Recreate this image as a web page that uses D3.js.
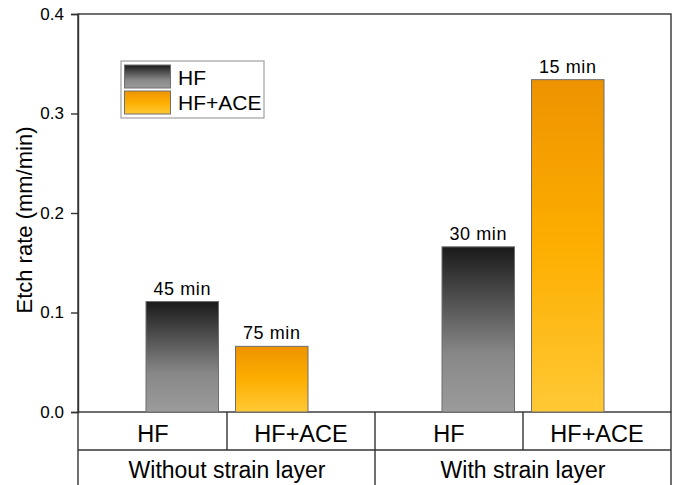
<!DOCTYPE html>
<html>
<head>
<meta charset="utf-8">
<script src="https://cdn.jsdelivr.net/npm/d3@7"></script>
<style>
  body { margin: 0; background: #fff; }
  text { font-family: "Liberation Sans", Arial, sans-serif; fill: #000; }
</style>
</head>
<body>
<svg width="678" height="485"></svg>
<script>
const groups = ['Without strain layer', 'With strain layer'];
const series = ['HF', 'HF+ACE'];
const hfValues = [0.111, 0.166];
const aceValues = [0.066, 0.334];
const hfTimes = ['45 min', '30 min'];
const aceTimes = ['75 min', '15 min'];
const yTicks = [0, 0.1, 0.2, 0.3, 0.4];

const rows = [];
groups.forEach((g, i) => {
  rows.push({ group: g, series: 'HF', value: hfValues[i], label: hfTimes[i] });
  rows.push({ group: g, series: 'HF+ACE', value: aceValues[i], label: aceTimes[i] });
});

const svg = d3.select('svg');
const plotL = 78, plotR = 671, plotT = 14, plotB = 412;

const defs = svg.append('defs');
const gHF = defs.append('linearGradient').attr('id', 'gradHF')
  .attr('x1', 0).attr('y1', 0).attr('x2', 0).attr('y2', 1);
gHF.append('stop').attr('offset', '0%').attr('stop-color', '#1a1a1a');
gHF.append('stop').attr('offset', '65%').attr('stop-color', '#888');
gHF.append('stop').attr('offset', '100%').attr('stop-color', '#9b9b9b');
const gACE = defs.append('linearGradient').attr('id', 'gradACE')
  .attr('x1', 0).attr('y1', 0).attr('x2', 0).attr('y2', 1);
gACE.append('stop').attr('offset', '0%').attr('stop-color', '#ee9300');
gACE.append('stop').attr('offset', '50%').attr('stop-color', '#fdae00');
gACE.append('stop').attr('offset', '100%').attr('stop-color', '#ffc935');
const fillFor = s => s === 'HF' ? 'url(#gradHF)' : 'url(#gradACE)';

// scales
const y = d3.scaleLinear().domain([0, 0.4]).range([plotB, plotT]);
// group centres sit on the quarter lines of the plot
const x0 = d3.scalePoint().domain(groups).range([227, 523]);
const x1 = d3.scaleBand().domain(series).range([-81, 81]).paddingInner(0.19).paddingOuter(0);

// frame
svg.append('rect').attr('x', plotL).attr('y', plotT)
  .attr('width', plotR - plotL).attr('height', plotB - plotT)
  .attr('fill', 'none').attr('stroke', '#333').attr('stroke-width', 1.4);

// bars
svg.append('g').selectAll('rect').data(rows).join('rect')
  .attr('x', d => x0(d.group) + x1(d.series))
  .attr('width', x1.bandwidth())
  .attr('y', d => y(d.value))
  .attr('height', d => y(0) - y(d.value))
  .attr('fill', d => fillFor(d.series))
  .attr('stroke', '#6e6e6e').attr('stroke-width', 1);

svg.append('g').selectAll('text').data(rows).join('text')
  .attr('x', d => x0(d.group) + x1(d.series) + x1.bandwidth() / 2)
  .attr('y', d => y(d.value) - 7)
  .attr('text-anchor', 'middle')
  .attr('font-size', 18)
  .attr('letter-spacing', 0.6)
  .text(d => d.label);

// y axis
const yAxis = svg.append('g').attr('transform', `translate(${plotL},0)`)
  .call(d3.axisLeft(y).tickValues(yTicks).tickFormat(d3.format('.1f')).tickSize(7).tickPadding(7));
yAxis.select('.domain').attr('stroke', '#333').attr('stroke-width', 1.4);
yAxis.selectAll('line').attr('stroke', '#333').attr('stroke-width', 1.4);
yAxis.selectAll('text').attr('font-size', 17).attr('font-family', '"Liberation Sans", Arial, sans-serif').attr('fill', '#000');

svg.append('text')
  .attr('transform', `translate(32,220) rotate(-90)`)
  .attr('text-anchor', 'middle')
  .attr('font-size', 22)
  .text('Etch rate (mm/min)');

// category table below the axis
const rowY = [412, 450, 485];
const table = svg.append('g');
const vline = (x, y1, y2) => table.append('line').attr('x1', x).attr('x2', x)
  .attr('y1', y1).attr('y2', y2).attr('stroke', '#333').attr('stroke-width', 1.4);
table.append('line').attr('x1', plotL).attr('x2', plotR).attr('y1', rowY[1]).attr('y2', rowY[1])
  .attr('stroke', '#333').attr('stroke-width', 1.4);
vline(plotL, rowY[0], rowY[2]);
vline(plotR, rowY[0], rowY[2]);
vline((x0(groups[0]) + x0(groups[1])) / 2, rowY[0], rowY[2]);
groups.forEach(g => vline(x0(g), rowY[0], rowY[1]));

const cells = [];
groups.forEach(g => series.forEach((s, j) => cells.push({ g, s, j })));
table.selectAll('.cell').data(cells).join('text')
  .attr('x', d => x0(d.g) + (d.j === 0 ? -74 : 74))
  .attr('y', 442)
  .attr('text-anchor', 'middle')
  .attr('font-size', 23.5)
  .text(d => d.s);
table.selectAll('.grp').data(groups).join('text')
  .attr('x', d => x0(d))
  .attr('y', 478)
  .attr('text-anchor', 'middle')
  .attr('font-size', 23)
  .text(d => d);

// legend
const lg = svg.append('g').attr('transform', 'translate(121,61)');
lg.append('rect').attr('width', 143).attr('height', 57)
  .attr('fill', '#fff').attr('stroke', '#a0a0a0').attr('stroke-width', 1.2);
lg.selectAll('.sw').data(series).join('rect')
  .attr('x', 3.5).attr('y', (d, i) => 4 + i * 26)
  .attr('width', 46).attr('height', 23)
  .attr('fill', d => fillFor(d)).attr('stroke', '#6e6e6e');
lg.selectAll('.lt').data(series).join('text')
  .attr('x', 57).attr('y', (d, i) => 23.5 + i * 25.5)
  .attr('font-size', 21)
  .text(d => d);
</script>
</body>
</html>
